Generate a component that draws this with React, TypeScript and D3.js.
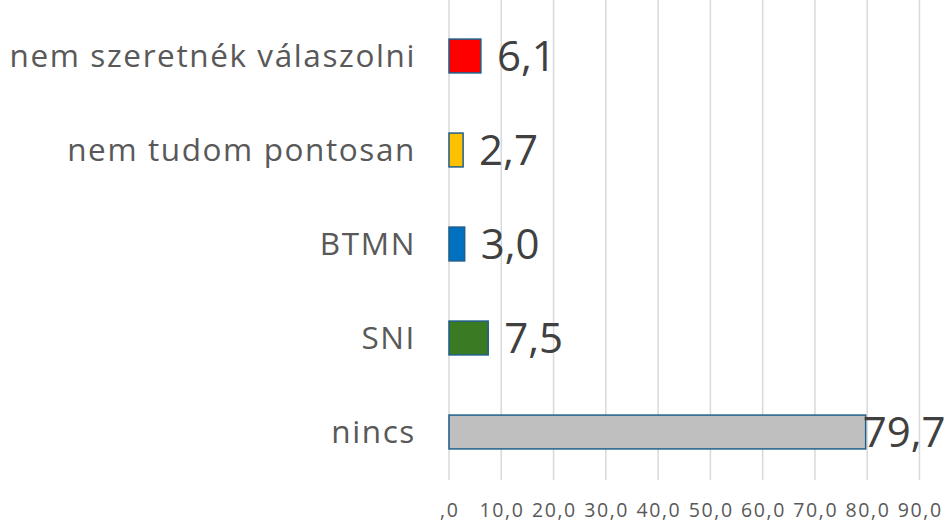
import React from "react";
import * as d3 from "d3";

const categories = ["nem szeretnék válaszolni", "nem tudom pontosan", "BTMN", "SNI", "nincs"];
const values = [6.1, 2.7, 3.0, 7.5, 79.7];
const colors = ["#FF0000", "#FFC000", "#0070C0", "#3A7A22", "#BFBFBF"];
const ticks = [0, 10, 20, 30, 40, 50, 60, 70, 80, 90];
const tickLabels = [",0", "10,0", "20,0", "30,0", "40,0", "50,0", "60,0", "70,0", "80,0", "90,0"];

const W = 949;
const H = 523;
const font = "'Open Sans', sans-serif";

export default function App() {
  const x = d3.scaleLinear().domain([0, 90]).range([449, 919.5]);
  const y = d3.scaleBand<string>().domain(categories).range([9, 479]).paddingInner(0.64).paddingOuter(0.32);
  const fmt = (v: number) => v.toFixed(1).replace(".", ",");
  return (
    <svg width={W} height={H} style={{ position: "absolute", left: 0, top: 0 }}>
      <rect width={W} height={H} fill="#fff" />
      {ticks.map((t, i) => (
        <g key={t}>
          <line x1={x(t)} x2={x(t)} y1={0} y2={480} stroke="#D9D9D9" strokeWidth={1.5} />
          <text x={x(t) + 0.8} y={516.5} textAnchor="middle" fontFamily={font} fontSize={19.5} letterSpacing={1.6} fill="#595959">
            {tickLabels[i]}
          </text>
        </g>
      ))}
      {categories.map((c, i) => {
        const yy = y(c)!;
        const bw = y.bandwidth();
        return (
          <g key={c}>
            <rect x={x(0)} y={yy} width={x(values[i]) - x(0)} height={bw} fill={colors[i]} stroke="#1F5F8B" strokeWidth={1.5} />
            <text x={416} y={yy + bw / 2} dy="0.35em" textAnchor="end" fontFamily={font} fontSize={31.5} letterSpacing={1.6} fill="#595959">
              {c}
            </text>
            <text x={x(values[i]) + (values[i] > 50 ? -3 : 16)} y={yy + bw / 2} dy="0.36em" textAnchor="start" fontFamily={font} fontSize={42} fill="#404040">
              {fmt(values[i])}
            </text>
          </g>
        );
      })}
    </svg>
  );
}
